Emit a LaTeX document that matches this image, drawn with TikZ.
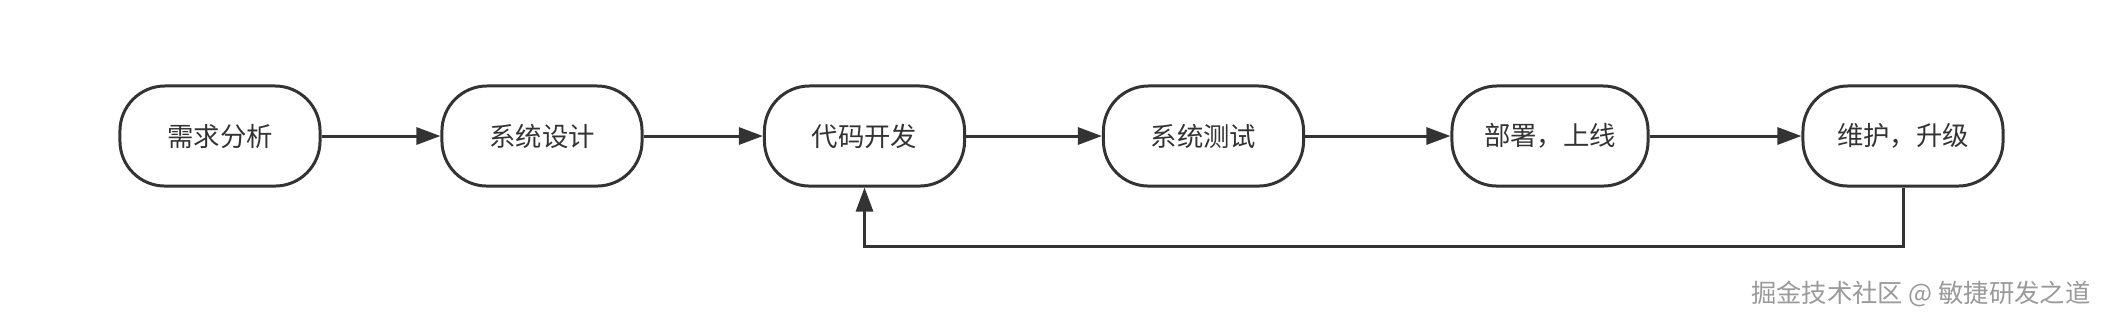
\documentclass[tikz,border=0pt]{standalone}
\usepackage{fontspec}
\newfontfamily\cjk{Noto Sans CJK SC}
\usetikzlibrary{arrows.meta}
\definecolor{ink}{HTML}{333333}
\definecolor{wm}{HTML}{9A9A9A}
\begin{document}
\begin{tikzpicture}[x=0.01cm,y=-0.01cm,
  stepbox/.style={draw=ink, line width=0.85pt, rounded corners=0.45cm, minimum width=2.0cm, minimum height=1.0cm, inner sep=0pt, fill=white, text=ink, font=\cjk\fontsize{7.5}{9}\selectfont},
  flow/.style={draw=ink, line width=0.85pt, -{Triangle[length=0.24cm,width=0.17cm]}}]
  \fill[white] (0,0) rectangle (2104,320);
  \useasboundingbox (0,0) rectangle (2104,320);
  \node[stepbox] (a) at (220,136) {需求分析};
  \node[stepbox] (b) at (542,136) {系统设计};
  \node[stepbox] (c) at (864.5,136) {代码开发};
  \node[stepbox] (d) at (1203.5,136) {系统测试};
  \node[stepbox, minimum width=1.96cm] (e) at (1550,136) {部署，上线};
  \node[stepbox] (f) at (1903,136) {维护，升级};
  \draw[flow] (a) -- (b);
  \draw[flow] (b) -- (c);
  \draw[flow] (c) -- (d);
  \draw[flow] (d) -- (e);
  \draw[flow] (e) -- (f);
  \coordinate (l1) at (1903,246);
  \coordinate (l2) at (864.5,246);
  \draw[flow] (f.south) -- (l1) -- (l2) -- (c.south);
  \node[anchor=east, text=wm, font=\cjk\fontsize{7.2}{9}\selectfont, inner sep=0pt] (wm) at (2091,294) {掘金技术社区 @ 敏捷研发之道};
\end{tikzpicture}
\end{document}
